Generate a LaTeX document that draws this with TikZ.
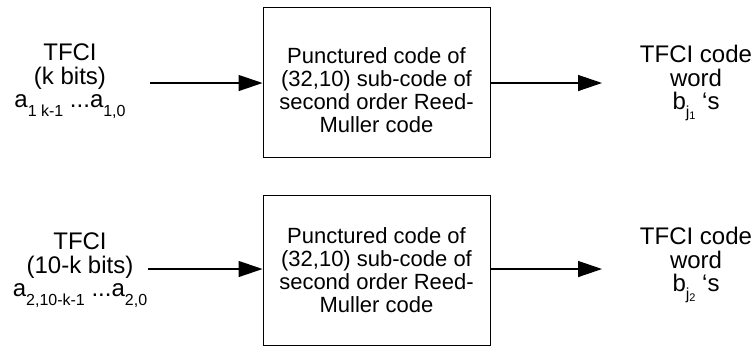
\documentclass[tikz,border=0pt]{standalone}
\usepackage{fontspec}
\setmainfont{Liberation Sans}
\usetikzlibrary{arrows.meta}
\newcommand{\lowidx}[1]{\raisebox{-4.2pt}{\fontsize{8}{8}\selectfont #1}}
\newcommand{\jidx}[1]{\raisebox{-4pt}{\fontsize{8}{8}\selectfont j\raisebox{-1pt}{\fontsize{5.5}{5.5}\selectfont #1}}}
\newcommand{\boxfont}{\fontsize{11}{11.6}\selectfont\lineskiplimit -20pt\relax}
\newcommand{\sidefont}{\fontsize{12}{11.75}\selectfont\lineskiplimit -20pt\relax}
\tikzset{
  codebox/.style={draw, line width=0.5pt, minimum width=113.5pt, minimum height=75pt, inner sep=0pt},
  boxtext/.style={align=center, inner sep=0pt, font=\boxfont},
  sidetext/.style={align=center, inner sep=0pt, font=\sidefont},
  flow/.style={line width=0.65pt, -{Triangle[length=12pt,width=8pt]}}
}
\begin{document}
\begin{tikzpicture}[x=0.5pt,y=-0.5pt]
\useasboundingbox (0,0) rectangle (753,345);
\node[codebox] (Coder1) at (376.5,82) {}; % Coder.1
\node[boxtext] (CoderText1) at (376.5,90) {Punctured code of\\(32,10) sub-code of\\second order Reed-\\Muller code}; % Coder.1
\node[codebox] (Coder2) at (376.5,270) {}; % Coder.2
\node[boxtext] (CoderText2) at (376.5,270) {Punctured code of\\(32,10) sub-code of\\second order Reed-\\Muller code}; % Coder.2
\node[sidetext] (Tfci1) at (70,81) {TFCI\\(k bits)\\a\lowidx{1 k-1} ...a\lowidx{1,0}}; % Input.1
\node[sidetext] (Tfci2) at (80,270) {TFCI\\(10-k bits)\\a\lowidx{2,10-k-1} ...a\lowidx{2,0}}; % Input.2
\node[sidetext] (Word1) at (696,83) {TFCI code\\word\\b\jidx{1} ‘s}; % Output.1
\node[sidetext] (Word2) at (696,265) {TFCI code\\word\\b\jidx{2} ‘s}; % Output.2
\coordinate (in1) at (150,83); % Input.1 arrow tail
\coordinate (out1) at (602,83); % Output.1 arrow tip
\coordinate (in2) at (148,269); % Input.2 arrow tail
\coordinate (out2) at (602,269); % Output.2 arrow tip
\draw[flow] (in1) -- (in1 -| Coder1.west) ; % feed.1
\draw[flow] (out1 -| Coder1.east) -- (out1) ; % emit.1
\draw[flow] (in2) -- (in2 -| Coder2.west) ; % feed.2
\draw[flow] (out2 -| Coder2.east) -- (out2) ; % emit.2
\end{tikzpicture}
\end{document}
